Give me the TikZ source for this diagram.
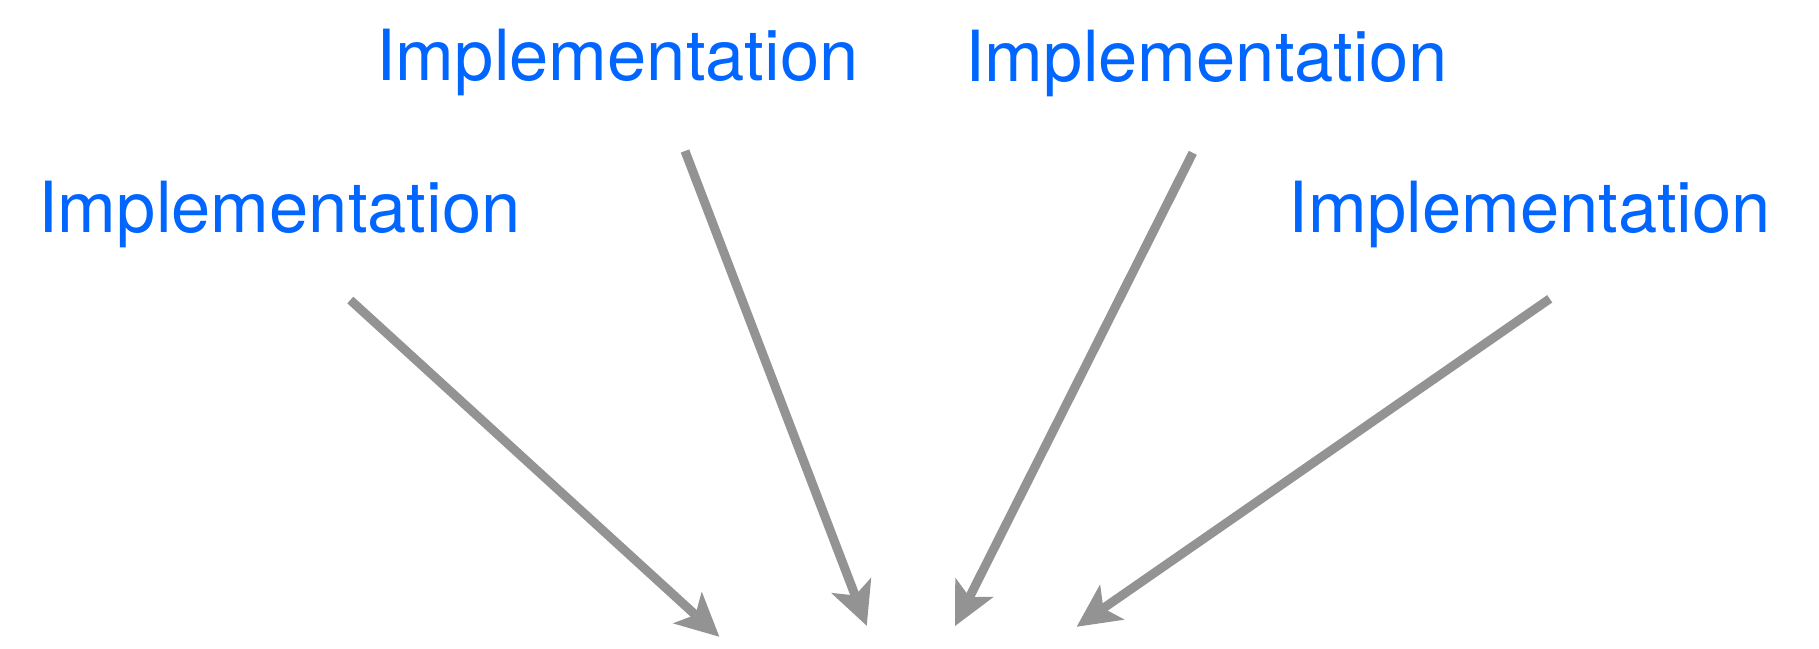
\documentclass[tikz,border=0pt]{standalone}
\usepackage{fontspec}
\setmainfont{TeX Gyre Heros}
\usetikzlibrary{arrows.meta}
\definecolor{implblue}{RGB}{0,102,255}
\definecolor{arrowgray}{RGB}{147,147,147}
\tikzset{
  impl/.style={text=implblue, inner sep=0pt, anchor=base west,
    font=\fontsize{70.5}{80}\selectfont},
  feed/.style={draw=arrowgray, line width=9pt, line cap=butt,
    -{Stealth[length=43.4pt, width=43pt, inset=11pt, line width=0pt]}}
}
\begin{document}
\begin{tikzpicture}[x=1pt, y=-1pt]
  \useasboundingbox (0,0) rectangle (1819,648);
  % labels
  \node[impl] (t1) at (38,232) {Implementation};
  \node[impl] (t2) at (376,80.7) {Implementation};
  \node[impl] (t3) at (965,81) {Implementation};
  \node[impl] (t4) at (1288.5,232) {Implementation};
  % arrow ends
  \coordinate (s1) at (350.3,300);
  \coordinate (e1) at (719.3,636.7);
  \coordinate (s2) at (685,151);
  \coordinate (e2) at (866.7,625.7);
  \coordinate (s3) at (1192.8,152.8);
  \coordinate (e3) at (955,626);
  \coordinate (s4) at (1549.7,298.8);
  \coordinate (e4) at (1076.7,626.7);
  % converging arrows
  \draw[feed] (s1) -- (e1);
  \draw[feed] (s2) -- (e2);
  \draw[feed] (s3) -- (e3);
  \draw[feed] (s4) -- (e4);
\end{tikzpicture}
\end{document}
